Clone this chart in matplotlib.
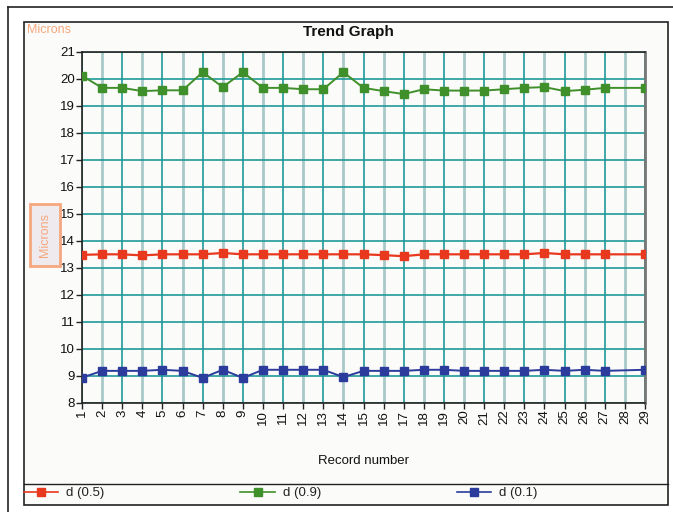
import matplotlib.pyplot as plt
import numpy as np
from matplotlib.patches import Rectangle
from matplotlib.lines import Line2D

plt.rcParams['font.family'] = ['Liberation Sans', 'DejaVu Sans']

# Data (record 28 has no sample)
records = [1, 2, 3, 4, 5, 6, 7, 8, 9, 10, 11, 12, 13, 14, 15, 16, 17, 18, 19, 20,
           21, 22, 23, 24, 25, 26, 27, 29]
d50 = [13.48, 13.5, 13.5, 13.46, 13.5, 13.5, 13.5, 13.55, 13.5, 13.5, 13.5, 13.5, 13.5, 13.5,
       13.5, 13.47, 13.43, 13.5, 13.5, 13.5, 13.5, 13.5, 13.5, 13.55, 13.5, 13.5, 13.5, 13.5]
d90 = [20.12, 19.67, 19.67, 19.55, 19.58, 19.58, 20.25, 19.7, 20.25, 19.67, 19.67, 19.62, 19.62, 20.25,
       19.67, 19.55, 19.44, 19.62, 19.57, 19.57, 19.57, 19.62, 19.67, 19.7, 19.55, 19.6, 19.67, 19.67]
d10 = [8.93, 9.18, 9.18, 9.18, 9.22, 9.18, 8.92, 9.22, 8.92, 9.22, 9.22, 9.22, 9.22, 8.95,
       9.18, 9.18, 9.18, 9.22, 9.22, 9.18, 9.18, 9.18, 9.18, 9.22, 9.18, 9.22, 9.18, 9.22]
x_ticks = list(range(1, 30))
y_ticks = list(range(8, 22))

W, H = 673, 512
fig = plt.figure(figsize=(W / 100, H / 100), dpi=100)
fig.patch.set_facecolor('white')

# panel frames
fig.add_artist(Line2D([8 / W, 8 / W], [0, 1 - 7 / H], color='#222222', lw=1.2, zorder=-2))
fig.add_artist(Line2D([8 / W, 1], [1 - 7 / H, 1 - 7 / H], color='#222222', lw=1.2, zorder=-2))
fig.add_artist(Rectangle((24 / W, 1 - 505 / H), (668 - 24) / W, (505 - 22) / H,
                         facecolor='#fbfbf9', edgecolor='#222222', lw=1.2, zorder=-2))
fig.add_artist(Line2D([24 / W, 668 / W], [1 - 484 / H, 1 - 484 / H], color='#222222', lw=1.0, zorder=-1))

ax = fig.add_axes([82 / W, 1 - 402.7 / H, (645 - 82) / W, (402.7 - 52) / H])
ax.set_zorder(1)
ax.set_facecolor('#fbfbf9')

ax.set_xlim(1, 29)
ax.set_ylim(8, 21)
ax.set_xticks(x_ticks)
ax.set_xticklabels([str(t) for t in x_ticks], rotation=90, fontsize=9.5)
ax.set_yticks(y_ticks)
ax.set_yticklabels([str(t) for t in y_ticks], fontsize=9.5)
ax.tick_params(axis='both', length=4, width=1, color='#222222', pad=1, labelcolor='#111111')

# grid: odd records dark teal, even records pale
for t in x_ticks:
    if t % 2 == 1:
        ax.axvline(t, color='#1e9a9a', lw=1.2, zorder=1)
    else:
        ax.axvline(t, color='#a9c9c9', lw=2.0, zorder=1)
for t in y_ticks:
    ax.axhline(t, color='#1e9a9a', lw=1.2, zorder=1)

ax.plot(records, d50, color='#e8391e', lw=1.6, marker='s', markersize=5.5, zorder=3)
ax.plot(records, d90, color='#3f8f2a', lw=1.4, marker='s', markersize=5.5, zorder=3)
ax.plot(records, d10, color='#2b3c9c', lw=1.4, marker='s', markersize=5.5, zorder=3)

for s in ['left', 'bottom', 'top']:
    ax.spines[s].set_color('#222222')
    ax.spines[s].set_linewidth(1.2)
ax.spines['right'].set_color('#777777')
ax.spines['right'].set_linewidth(2.0)

fig.text(348 / W, 1 - 32 / H, 'Trend Graph', ha='center', va='center',
         fontsize=11, fontweight='bold', color='#111111')
fig.text(27 / W, 1 - 30 / H, 'Microns', ha='left', va='center', fontsize=9, color='#f6a77e')
fig.text(45 / W, 1 - 235 / H, 'Microns', ha='center', va='center', rotation=90,
         fontsize=9, color='#f6a77e',
         bbox=dict(boxstyle='square,pad=0.7', facecolor='#eeeaee', edgecolor='#f6a77e', lw=2))
fig.text(363 / W, 1 - 461 / H, 'Record number', ha='center', va='center',
         fontsize=9.5, color='#111111')

handles = [Line2D([], [], color='#e8391e', lw=1.2, marker='s', markersize=5.5),
           Line2D([], [], color='#3f8f2a', lw=1.2, marker='s', markersize=5.5),
           Line2D([], [], color='#2b3c9c', lw=1.2, marker='s', markersize=5.5)]
fig.legend(handles, ['d (0.5)', 'd (0.9)', 'd (0.1)'], ncol=3, frameon=False,
           loc='center left', bbox_to_anchor=(24 / W, 1 - 493 / H), borderaxespad=0,
           borderpad=0, fontsize=9.5, handlelength=2.6, handletextpad=0.6,
           columnspacing=10.3, labelcolor='#222222')

fig.savefig('out.png', dpi=100)
